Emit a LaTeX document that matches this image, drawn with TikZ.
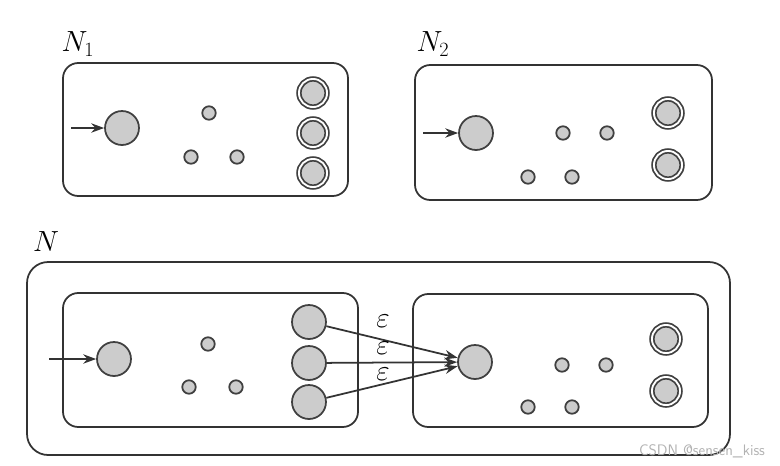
\documentclass[tikz,border=0pt]{standalone}
\usepackage{fontspec}
\usetikzlibrary{arrows.meta}
\tikzset{
  state/.style={circle, draw=black!75, fill=black!20, line width=1.5pt, inner sep=0pt},
  bigstate/.style={state, minimum size=29pt},
  dotstate/.style={state, minimum size=11.5pt},
  finalstate/.style={state, minimum size=24pt, double=white, double distance=1.6pt},
  nfabox/.style={draw=black!80, line width=1.5pt, rounded corners=13pt},
  edge/.style={draw=black!80, line width=1.5pt, -{Stealth[length=11pt,width=8pt]}},
  lbl/.style={font=\fontsize{27}{32}\selectfont},
  epslbl/.style={font=\fontsize{24}{28}\selectfont, inner sep=0pt, text height=1ex, text depth=0pt}
}
\begin{document}
\begin{tikzpicture}[x=0.03cm, y=-0.03cm]
\useasboundingbox (0,0) rectangle (780,465);

% N1
\draw[nfabox] (63,63) rectangle (348,196);
\node[lbl] (n1lbl) at (78,44) {$N_1$};
\node[bigstate] (a0) at (122,128) {};
\coordinate (a0in) at (71,128);
\draw[edge] (a0in) -- (a0);
\node[dotstate] (a1) at (209,113) {};
\node[dotstate] (a2) at (191,157) {};
\node[dotstate] (a3) at (237,157) {};
\foreach \i/\y in {1/93,2/133,3/173} {
    \node[finalstate] (af\i) at (313,\y) {};
}

% N2
\draw[nfabox] (415,65) rectangle (712,200);
\node[lbl] (n2lbl) at (433,44) {$N_2$};
\node[bigstate] (b0) at (476,133) {};
\coordinate (b0in) at (423,133);
\draw[edge] (b0in) -- (b0);
\node[dotstate] (b1) at (563,133) {};
\node[dotstate] (b2) at (607,133) {};
\node[dotstate] (b3) at (528,177) {};
\node[dotstate] (b4) at (572,177) {};
\node[finalstate] (bf1) at (668,113) {};
\node[finalstate] (bf2) at (668,165) {};

% N
\draw[nfabox, rounded corners=18pt] (27,262) rectangle (730,455);
\node[lbl] (nlbl) at (46,242) {$N$};

% left part
\draw[nfabox] (63,293) rectangle (358,427);
\node[bigstate] (c0) at (114,359) {};
\coordinate (c0in) at (49,359);
\draw[edge] (c0in) -- (c0);
\node[dotstate] (c1) at (208,344) {};
\node[dotstate] (c2) at (189,387) {};
\node[dotstate] (c3) at (236,387) {};
\foreach \i/\y in {1/322,2/363,3/402} {
    \node[bigstate] (cf\i) at (309,\y) {};
}

% right part
\draw[nfabox] (413,294) rectangle (708,427);
\node[bigstate] (d0) at (475,362) {};
\node[dotstate] (d1) at (562,365) {};
\node[dotstate] (d2) at (606,365) {};
\node[dotstate] (d3) at (528,407) {};
\node[dotstate] (d4) at (572,407) {};
\node[finalstate] (df1) at (666,339) {};
\node[finalstate] (df2) at (666,391) {};

% epsilon moves
\draw[edge] (cf1) -- (d0);
\draw[edge] (cf2) -- (d0);
\draw[edge] (cf3) -- (d0);
\node[epslbl] (e1) at (383,325) {$\varepsilon$};
\node[epslbl] (e2) at (383,352) {$\varepsilon$};
\node[epslbl] (e3) at (383,378) {$\varepsilon$};

\node[font=\fontsize{13}{15}\selectfont\sffamily, text=black!30] (wm) at (702,451) {CSDN @sensen\_kiss};
\end{tikzpicture}
\end{document}
